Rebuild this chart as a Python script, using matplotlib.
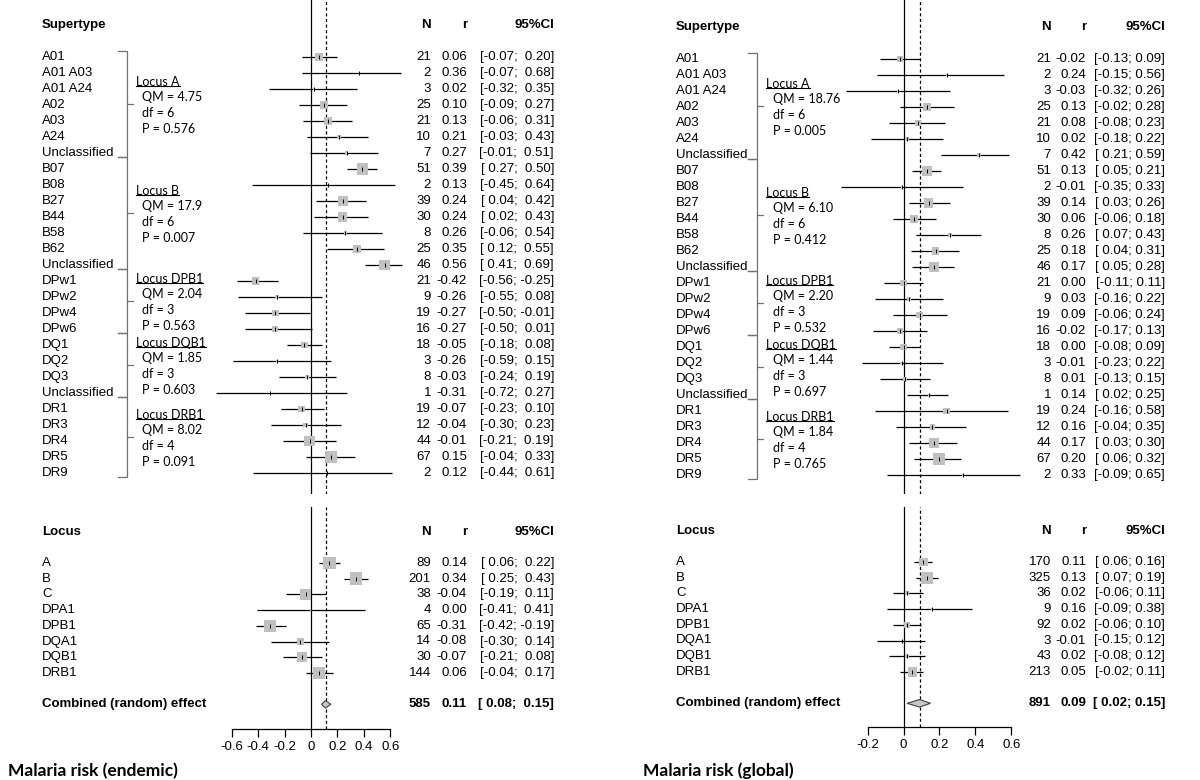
import numpy as np
import matplotlib
matplotlib.use("Agg")
import matplotlib.pyplot as plt
from matplotlib.lines import Line2D
from matplotlib.patches import Polygon

# ---------------- data ----------------
supertypes = ["A01", "A01 A03", "A01 A24", "A02", "A03", "A24", "Unclassified",
              "B07", "B08", "B27", "B44", "B58", "B62", "Unclassified",
              "DPw1", "DPw2", "DPw4", "DPw6",
              "DQ1", "DQ2", "DQ3", "Unclassified",
              "DR1", "DR3", "DR4", "DR5", "DR9"]
group_names = ["Locus A", "Locus B", "Locus DPB1", "Locus DQB1", "Locus DRB1"]
group_sizes = [7, 7, 4, 4, 5]

# endemic
n_end = [21, 2, 3, 25, 21, 10, 7, 51, 2, 39, 30, 8, 25, 46, 21, 9, 19, 16, 18, 3, 8, 1, 19, 12, 44, 67, 2]
r_end = [0.06, 0.36, 0.02, 0.10, 0.13, 0.21, 0.27, 0.39, 0.13, 0.24, 0.24, 0.26, 0.35, 0.56,
         -0.42, -0.26, -0.27, -0.27, -0.05, -0.26, -0.03, -0.31, -0.07, -0.04, -0.01, 0.15, 0.12]
lo_end = [-0.07, -0.07, -0.32, -0.09, -0.06, -0.03, -0.01, 0.27, -0.45, 0.04, 0.02, -0.06, 0.12, 0.41,
          -0.56, -0.55, -0.50, -0.50, -0.18, -0.59, -0.24, -0.72, -0.23, -0.30, -0.21, -0.04, -0.44]
hi_end = [0.20, 0.68, 0.35, 0.27, 0.31, 0.43, 0.51, 0.50, 0.64, 0.42, 0.43, 0.54, 0.55, 0.69,
          -0.25, 0.08, -0.01, 0.01, 0.08, 0.15, 0.19, 0.27, 0.10, 0.23, 0.19, 0.33, 0.61]
qm_end = ["4.75", "17.9", "2.04", "1.85", "8.02"]
df_end = [6, 6, 3, 3, 4]
p_end = ["0.576", "0.007", "0.563", "0.603", "0.091"]

# global
n_glob = [21, 2, 3, 25, 21, 10, 7, 51, 2, 39, 30, 8, 25, 46, 21, 9, 19, 16, 18, 3, 8, 1, 19, 12, 44, 67, 2]
r_glob = [-0.02, 0.24, -0.03, 0.13, 0.08, 0.02, 0.42, 0.13, -0.01, 0.14, 0.06, 0.26, 0.18, 0.17,
          0.00, 0.03, 0.09, -0.02, 0.00, -0.01, 0.01, 0.14, 0.24, 0.16, 0.17, 0.20, 0.33]
lo_glob = [-0.13, -0.15, -0.32, -0.02, -0.08, -0.18, 0.21, 0.05, -0.35, 0.03, -0.06, 0.07, 0.04, 0.05,
           -0.11, -0.16, -0.06, -0.17, -0.08, -0.23, -0.13, 0.02, -0.16, -0.04, 0.03, 0.06, -0.09]
hi_glob = [0.09, 0.56, 0.26, 0.28, 0.23, 0.22, 0.59, 0.21, 0.33, 0.26, 0.18, 0.43, 0.31, 0.28,
           0.11, 0.22, 0.24, 0.13, 0.09, 0.22, 0.15, 0.25, 0.58, 0.35, 0.30, 0.32, 0.65]
qm_glob = ["18.76", "6.10", "2.20", "1.44", "1.84"]
df_glob = [6, 6, 3, 3, 4]
p_glob = ["0.005", "0.412", "0.532", "0.697", "0.765"]

loci = ["A", "B", "C", "DPA1", "DPB1", "DQA1", "DQB1", "DRB1"]
locus_n_end = [89, 201, 38, 4, 65, 14, 30, 144]
locus_r_end = [0.14, 0.34, -0.04, 0.00, -0.31, -0.08, -0.07, 0.06]
locus_lo_end = [0.06, 0.25, -0.19, -0.41, -0.42, -0.30, -0.21, -0.04]
locus_hi_end = [0.22, 0.43, 0.11, 0.41, -0.19, 0.14, 0.08, 0.17]
comb_end = (585, 0.11, 0.08, 0.15)

locus_n_glob = [170, 325, 36, 9, 92, 3, 43, 213]
locus_r_glob = [0.11, 0.13, 0.02, 0.16, 0.02, -0.01, 0.02, 0.05]
locus_lo_glob = [0.06, 0.07, -0.06, -0.09, -0.06, -0.15, -0.08, -0.02]
locus_hi_glob = [0.16, 0.19, 0.11, 0.38, 0.10, 0.12, 0.12, 0.11]
comb_glob = (891, 0.09, 0.02, 0.15)

ticks_end = [-0.6, -0.4, -0.2, 0.0, 0.2, 0.4, 0.6]
ticks_glob = [-0.2, 0.0, 0.2, 0.4, 0.6]
titles = ["Malaria risk (endemic)", "Malaria risk (global)"]

# ---------------- layout ----------------
W, H = 1200, 780
fig = plt.figure(figsize=(W / 100, H / 100), dpi=100)
fig.patch.set_facecolor("white")

MAIN = ["Liberation Sans", "DejaVu Sans"]
CAL = ["Lato", "DejaVu Sans"]
FS = 9.5
SQ_COLOR = "#c0c0c0"


def add_axes_px(x0, x1, y0, y1):
    return fig.add_axes([x0 / W, 1 - y1 / H, (x1 - x0) / W, (y1 - y0) / H])


def fmt_ci(lo, hi):
    ls = ["%.2f" % v for v in lo]
    hs = ["%.2f" % v for v in hi]
    wl = max(len(s) for s in ls)
    wh = max(len(s) for s in hs)
    return ["[" + a.rjust(wl) + "; " + b.rjust(wh) + "]" for a, b in zip(ls, hs)]


def fmt_tick(v):
    if abs(v) < 1e-9:
        return "0"
    return ("%.1f" % v)


panels = [
    dict(px0=0, zero=311.0, scale=132.0, label=42, brk=127, locus=136, stat=142,
         ncol=431, rcol=467, cicol=554, row0_top=57, row0_bot=563, axis_y=729, title_x=8,
         n=n_end, r=r_end, lo=lo_end, hi=hi_end, qm=qm_end, df=df_end, p=p_end,
         ln=locus_n_end, lr=locus_r_end, llo=locus_lo_end, lhi=locus_hi_end, comb=comb_end,
         ticks=ticks_end, title=titles[0],
         top_size=lambda n: 13.0 * (1 - np.exp(-np.asarray(n) / 25.0)),
         bot_size=lambda n: 12.5 * (1 - np.exp(-np.asarray(n) / 20.0))),
    dict(px0=600, zero=903.5, scale=179.6, label=676, brk=757, locus=766, stat=773,
         ncol=1051, rcol=1086, cicol=1165, row0_top=59, row0_bot=562, axis_y=727, title_x=643,
         n=n_glob, r=r_glob, lo=lo_glob, hi=hi_glob, qm=qm_glob, df=df_glob, p=p_glob,
         ln=locus_n_glob, lr=locus_r_glob, llo=locus_lo_glob, lhi=locus_hi_glob, comb=comb_glob,
         ticks=ticks_glob, title=titles[1],
         top_size=lambda n: 12.0 * np.sqrt(np.asarray(n) / 67.0),
         bot_size=lambda n: 12.0 * np.sqrt(np.asarray(n) / 325.0)),
]

underline_texts = []
ROW_TOP = 16.0
ROW_BOT = 15.7
TOP_END = 494
BOT_START = 507

for P in panels:
    zero, scale, px0 = P["zero"], P["scale"], P["px0"]
    X = lambda px: (px - zero) / scale
    xlim = (X(px0), X(px0 + 600))
    ci_all = fmt_ci(list(P["lo"]) + list(P["lllo"] if False else P["llo"]) + [P["comb"][2]],
                    list(P["hi"]) + list(P["lhi"]) + [P["comb"][3]])
    ci_top = ci_all[:len(P["lo"])]
    ci_bot = ci_all[len(P["lo"]):len(P["lo"]) + len(P["llo"])]
    ci_comb = ci_all[-1]

    # ---------- top (supertype) panel ----------
    ax = add_axes_px(px0, px0 + 600, 0, TOP_END)
    ax.set_xlim(*xlim)
    ax.set_ylim((TOP_END - P["row0_top"]) / ROW_TOP, -P["row0_top"] / ROW_TOP)
    ax.axis("off")
    rows = np.arange(len(supertypes))
    comb_r = P["comb"][1]
    ax.axvline(0, color="black", lw=0.9, zorder=1)
    ax.axvline(comb_r, color="black", lw=0.9, ls=(0, (2.5, 2)), zorder=1)
    ax.hlines(rows, P["lo"], P["hi"], color="black", lw=0.9, zorder=2)
    side = P["top_size"](P["n"]) * 0.72
    ax.scatter(P["r"], rows, marker="s", s=side ** 2, color=SQ_COLOR, linewidths=0, zorder=3)
    ax.scatter(P["r"], rows, marker="|", s=(4.5 * 0.72) ** 2, color="black", linewidths=0.7, zorder=4)

    ax.text(X(P["label"]), -2, "Supertype", fontfamily=MAIN, fontsize=FS, fontweight="bold", va="center", ha="left")
    ax.text(X(P["ncol"]), -2, "N", fontfamily=MAIN, fontsize=FS, fontweight="bold", va="center", ha="right")
    ax.text(X(P["rcol"]), -2, "r", fontfamily=MAIN, fontsize=FS, fontweight="bold", va="center", ha="right")
    ax.text(X(P["cicol"]), -2, "95%CI", fontfamily=MAIN, fontsize=FS, fontweight="bold", va="center", ha="right")
    for i, lab in enumerate(supertypes):
        ax.text(X(P["label"]), i, lab, fontfamily=MAIN, fontsize=FS, va="center", ha="left")
        ax.text(X(P["ncol"]), i, str(P["n"][i]), fontfamily=MAIN, fontsize=FS, va="center", ha="right")
        ax.text(X(P["rcol"]), i, "%.2f" % P["r"][i], fontfamily=MAIN, fontsize=FS, va="center", ha="right")
        ax.text(X(P["cicol"]), i, ci_top[i], fontfamily=MAIN, fontsize=FS, va="center", ha="right")

    # brackets + group stats
    bx = X(P["brk"])
    tick_l = 9.0 / scale
    tick_r = 6.0 / scale
    start = 0
    top_b = -0.38
    for g, gs in enumerate(group_sizes):
        last = start + gs - 1
        bot_b = last + 0.28
        mid = (top_b + bot_b) / 2
        ax.plot([bx - tick_l, bx, bx, bx - tick_l], [top_b, top_b, bot_b, bot_b],
                color="#707070", lw=0.9, solid_joinstyle="miter")
        ax.plot([bx, bx + tick_r], [mid, mid], color="#707070", lw=0.9)
        t = ax.text(X(P["locus"]), mid - 1.375, group_names[g], fontfamily=CAL, fontsize=9,
                    va="center", ha="left")
        underline_texts.append(t)
        ax.text(X(P["stat"]), mid - 0.44, "QM = " + P["qm"][g], fontfamily=CAL, fontsize=9, va="center", ha="left")
        ax.text(X(P["stat"]), mid + 0.53, "df = %d" % P["df"][g], fontfamily=CAL, fontsize=9, va="center", ha="left")
        ax.text(X(P["stat"]), mid + 1.53, "P = " + P["p"][g], fontfamily=CAL, fontsize=9, va="center", ha="left")
        start = last + 1
        top_b = bot_b

    # ---------- bottom (locus) panel ----------
    axb = add_axes_px(px0, px0 + 600, BOT_START, P["axis_y"])
    axb.set_xlim(*xlim)
    axb.set_ylim((P["axis_y"] - P["row0_bot"]) / ROW_BOT, (BOT_START - P["row0_bot"]) / ROW_BOT)
    axb.patch.set_visible(False)
    for sp in ["left", "right", "top"]:
        axb.spines[sp].set_visible(False)
    axb.spines["bottom"].set_bounds(P["ticks"][0], P["ticks"][-1])
    axb.spines["bottom"].set_linewidth(0.9)
    axb.set_yticks([])
    axb.set_xticks(P["ticks"])
    axb.set_xticklabels([fmt_tick(v) for v in P["ticks"]], fontfamily=MAIN, fontsize=FS)
    axb.tick_params(axis="x", direction="out", length=5.5, width=0.9, pad=3)

    lrows = np.arange(len(loci))
    axb.axvline(0, color="black", lw=0.9, zorder=1)
    axb.axvline(comb_r, color="black", lw=0.9, ls=(0, (2.5, 2)), zorder=1)
    axb.hlines(lrows, P["llo"], P["lhi"], color="black", lw=0.9, zorder=2)
    side = P["bot_size"](P["ln"]) * 0.72
    axb.scatter(P["lr"], lrows, marker="s", s=side ** 2, color=SQ_COLOR, linewidths=0, zorder=3)
    axb.scatter(P["lr"], lrows, marker="|", s=(4.5 * 0.72) ** 2, color="black", linewidths=0.7, zorder=4)

    axb.text(X(P["label"]), -2, "Locus", fontfamily=MAIN, fontsize=FS, fontweight="bold", va="center", ha="left")
    axb.text(X(P["ncol"]), -2, "N", fontfamily=MAIN, fontsize=FS, fontweight="bold", va="center", ha="right")
    axb.text(X(P["rcol"]), -2, "r", fontfamily=MAIN, fontsize=FS, fontweight="bold", va="center", ha="right")
    axb.text(X(P["cicol"]), -2, "95%CI", fontfamily=MAIN, fontsize=FS, fontweight="bold", va="center", ha="right")
    for i, lab in enumerate(loci):
        axb.text(X(P["label"]), i, lab, fontfamily=MAIN, fontsize=FS, va="center", ha="left")
        axb.text(X(P["ncol"]), i, str(P["ln"][i]), fontfamily=MAIN, fontsize=FS, va="center", ha="right")
        axb.text(X(P["rcol"]), i, "%.2f" % P["lr"][i], fontfamily=MAIN, fontsize=FS, va="center", ha="right")
        axb.text(X(P["cicol"]), i, ci_bot[i], fontfamily=MAIN, fontsize=FS, va="center", ha="right")

    # combined effect
    cn, cr, clo, chi = P["comb"]
    yc = len(loci) + 1
    hh = 0.24
    axb.add_patch(Polygon([(clo, yc), (cr, yc - hh), (chi, yc), (cr, yc + hh)], closed=True,
                          facecolor="#c8c8c8", edgecolor="#404040", lw=0.8, zorder=3))
    axb.text(X(P["label"]), yc, "Combined (random) effect", fontfamily=MAIN, fontsize=FS,
             fontweight="bold", va="center", ha="left")
    axb.text(X(P["ncol"]), yc, str(cn), fontfamily=MAIN, fontsize=FS, fontweight="bold", va="center", ha="right")
    axb.text(X(P["rcol"]), yc, "%.2f" % cr, fontfamily=MAIN, fontsize=FS, fontweight="bold", va="center", ha="right")
    axb.text(X(P["cicol"]), yc, ci_comb, fontfamily=MAIN, fontsize=FS, fontweight="bold", va="center", ha="right")

    fig.text(P["title_x"] / W, 1 - 771 / H, P["title"], fontfamily=CAL, fontsize=12.5,
             fontweight="bold", va="center", ha="left")

# underline group headings
fig.canvas.draw()
renderer = fig.canvas.get_renderer()
inv = fig.transFigure.inverted()
for t in underline_texts:
    bb = t.get_window_extent(renderer)
    y = bb.y0 + 2.0
    (fx0, fy), (fx1, _) = inv.transform([(bb.x0, y), (bb.x1, y)])
    fig.add_artist(Line2D([fx0, fx1], [fy, fy], transform=fig.transFigure, color="black", lw=0.8))

fig.savefig("out.png", dpi=100, facecolor="white")
